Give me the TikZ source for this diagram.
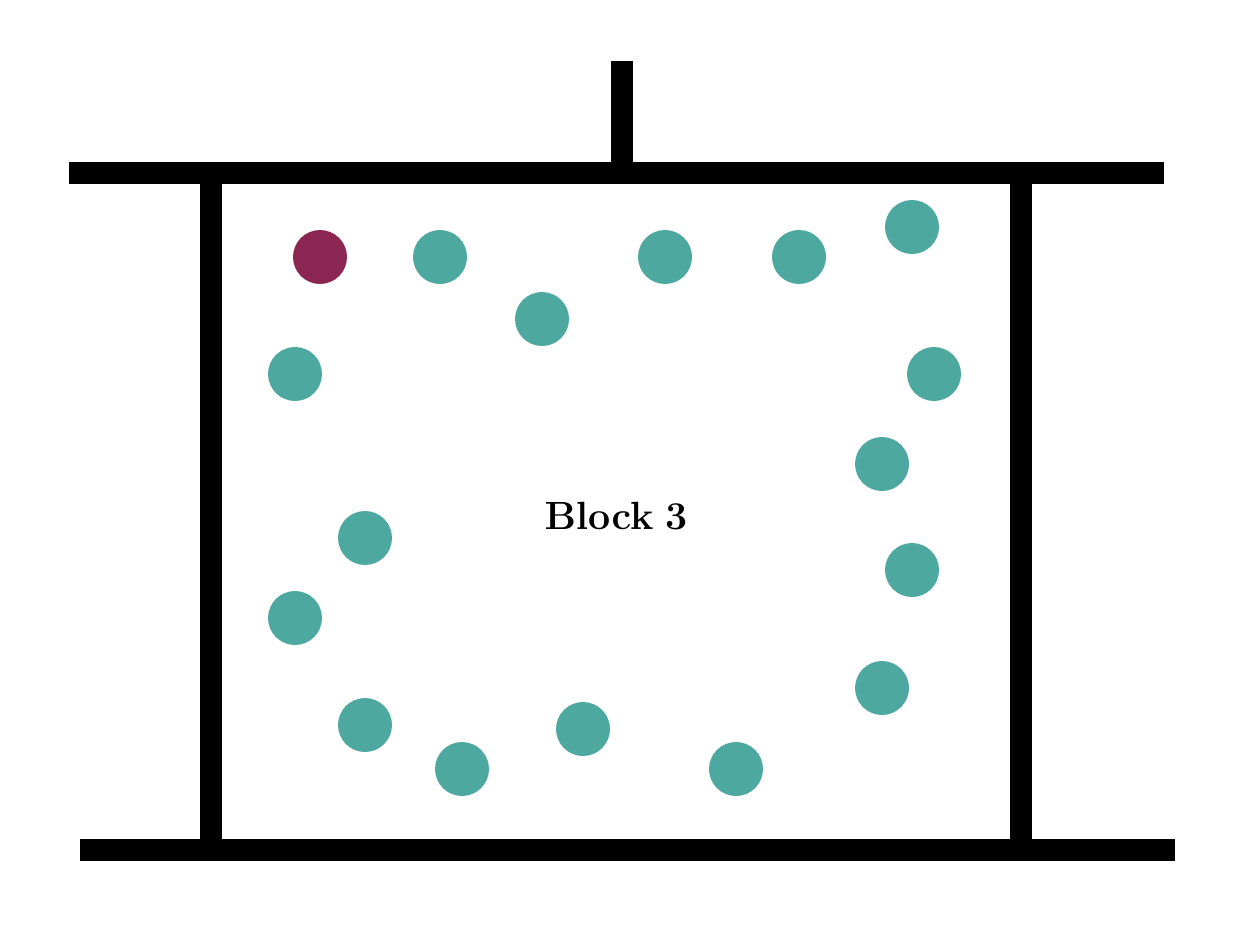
\documentclass[tikz,border=0pt]{standalone}
\usepackage{xcolor}
\definecolor{blockteal}{HTML}{4DA89F}
\definecolor{blockred}{HTML}{8B2551}

\begin{document}
\begin{tikzpicture}[x=0.02cm, y=-0.02cm, wall/.style={line width=0.44cm}]
    \useasboundingbox (0,0) rectangle (1256,942);
    % Frame
    \draw[wall] (69,173) -- (1164,173);
    \draw[wall] (622,61) -- (622,162);
    \draw[wall] (211,184) -- (211,839);
    \draw[wall] (1021,184) -- (1021,839);
    \draw[wall] (80,850) -- (1175,850);
    % Particles
    \fill[blockred] (320,257) circle (0.54cm);
    \foreach \px/\py in {440/257, 542/319, 665/257, 799/257, 912/227,
                         295/374, 934/374, 882/464, 365/538, 912/570,
                         295/618, 882/688, 365/725, 462/769, 583/729, 736/769}
        \fill[blockteal] (\px,\py) circle (0.54cm);
    \node[font=\huge, scale=1.08] (label) at (616,516) {$\mathbf{Block~3}$};
\end{tikzpicture}
\end{document}
